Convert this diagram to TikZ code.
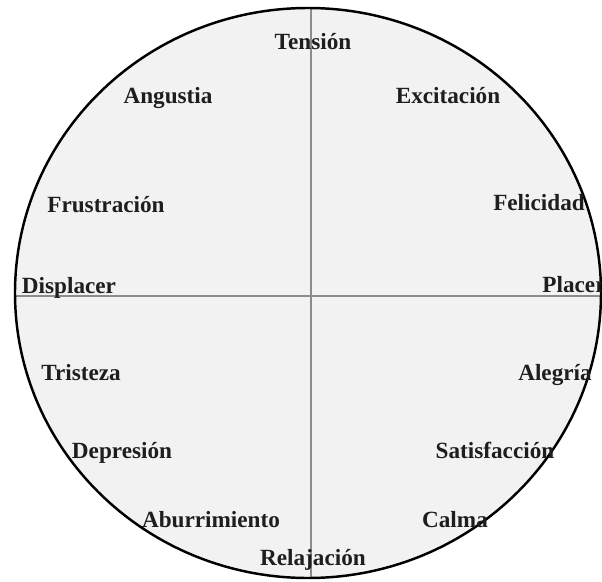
\documentclass[tikz,border=0pt]{standalone}
\usepackage{fontspec}
\setmainfont{Liberation Serif}
\usepackage{tikz}
\usepackage{xcolor}
\usetikzlibrary{positioning}
\definecolor{colorFond}{HTML}{F2F2F2}
\definecolor{colorAxe}{HTML}{8C8C8C}
\definecolor{colorTexte}{HTML}{1E1E1E}
\def\colorFond{colorFond}
\def\colorAxe{colorAxe}
\def\colorTexte{colorTexte}
\tikzset{
    emocion/.style={draw = none , fill=none , anchor=base , inner sep=0pt , text=\colorTexte ,
        font=\fontsize{19.8pt}{22pt}\selectfont\bfseries},
    axe/.style={line width=1.3pt , color=\colorAxe}
}

\begin{document}
\begin{tikzpicture}[x=0.03cm , y=-0.03cm]
    \useasboundingbox (0,0) rectangle (602,582);

    % Disque de fond
    \fill[\colorFond] (308,293) ellipse [x radius=293, y radius=285];

    % Axes
    \coordinate (haut) at (311,8);
    \coordinate (bas) at (311,578);
    \coordinate (gauche) at (15,296);
    \coordinate (droite) at (602,296);
    \draw[axe] (haut) -- (bas);
    \draw[axe] (gauche) -- (droite);

    % Contour
    \draw[line width=2.1pt , black] (308,293) ellipse [x radius=293, y radius=285];

    % Etiquettes
    \node[emocion] (tension) at (313,49) {Tensión};
    \node[emocion] (angustia) at (168,103) {Angustia};
    \node[emocion] (excitacion) at (448,103) {Excitación};
    \node[emocion] (frustracion) at (106,212) {Frustración};
    \node[emocion] (felicidad) at (539,210) {Felicidad};
    \node[emocion] (displacer) at (69,293) {Displacer};
    \node[emocion] (placer) at (574,292) {Placer};
    \node[emocion] (tristeza) at (81,380) {Tristeza};
    \node[emocion] (alegria) at (555,380) {Alegría};
    \node[emocion] (depresion) at (122,458) {Depresión};
    \node[emocion] (satisfaccion) at (495,458) {Satisfacción};
    \node[emocion] (aburrimiento) at (211,527) {Aburrimiento};
    \node[emocion] (calma) at (455,527) {Calma};
    \node[emocion] (relajacion) at (313,565) {Relajación};
\end{tikzpicture}
\end{document}
